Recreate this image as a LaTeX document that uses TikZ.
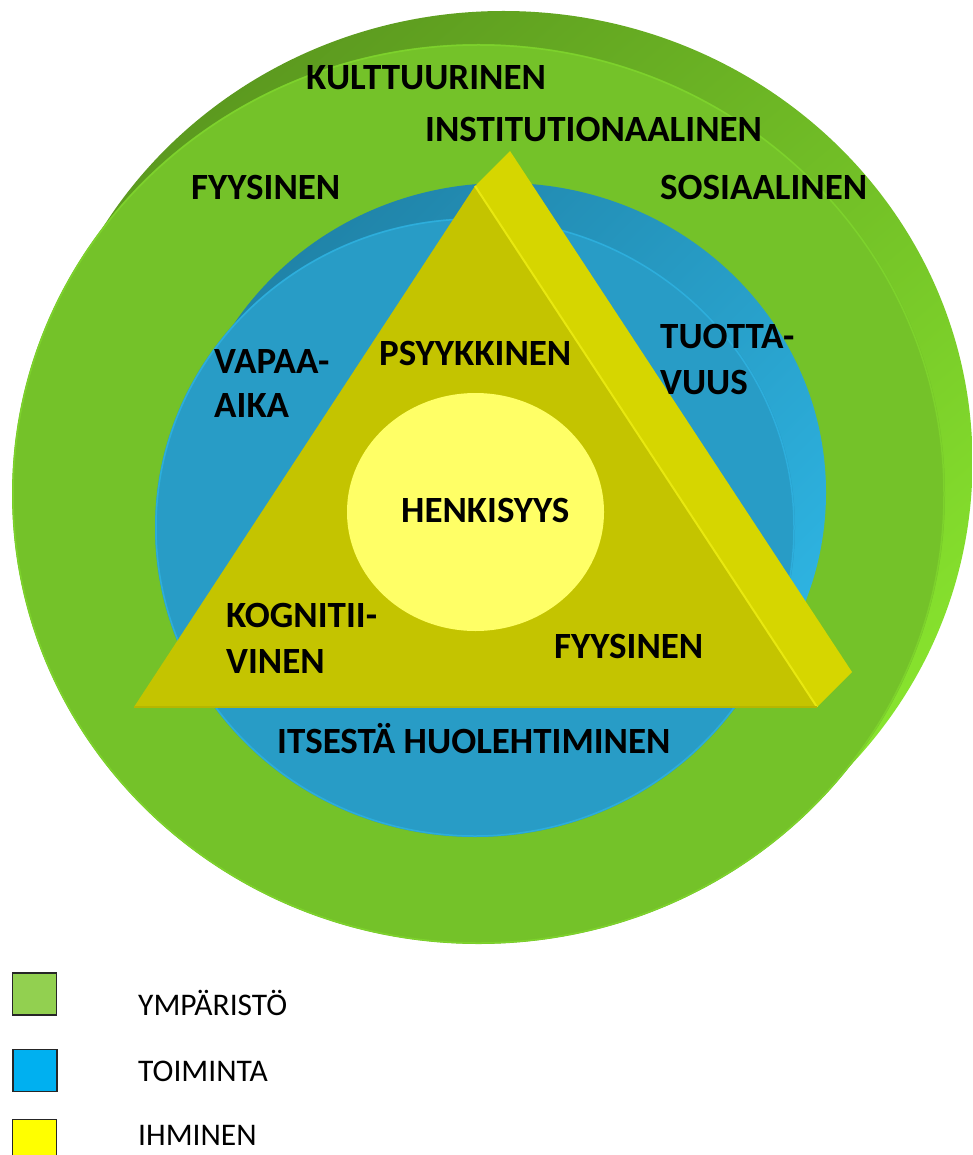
\documentclass[tikz,border=0pt]{standalone}
\usepackage{fontspec}
\setmainfont{Carlito}
\definecolor{gfront}{HTML}{74C229}
\definecolor{gdark}{HTML}{5C9A1F}
\definecolor{glight}{HTML}{88E42E}
\definecolor{gedge}{HTML}{7DD22C}
\definecolor{bfront}{HTML}{289CC6}
\definecolor{bdark}{HTML}{2084A9}
\definecolor{blight}{HTML}{2EB5E3}
\definecolor{bedge}{HTML}{2DAEDC}
\definecolor{tfront}{HTML}{C4C400}
\definecolor{tside}{HTML}{D6D600}
\definecolor{thl}{HTML}{E8E810}
\definecolor{tdark}{HTML}{B6B600}
\definecolor{yel}{HTML}{FFFF66}
\definecolor{lg}{HTML}{92D050}
\definecolor{lb}{HTML}{00B0F0}
\definecolor{ly}{HTML}{FFFF00}
\definecolor{legline}{HTML}{262626}
\begin{document}
\begin{tikzpicture}[x=1pt,y=-1pt,
  lbl/.style={font=\fontsize{37}{44}\selectfont\bfseries, inner sep=0pt, anchor=base west, text=black},
  legtxt/.style={font=\fontsize{31.5}{38}\selectfont, inner sep=0pt, anchor=base west, text=black},
  legbox/.style={draw=legline, line width=1.3pt, minimum width=44pt, minimum height=42pt, inner sep=0pt}]
\useasboundingbox (0,0) rectangle (972,1155);
\clip (0,0) rectangle (972,1155);

% ---------- green disc (environment) ----------
\shade[top color=gdark, middle color=gfront, bottom color=glight, shading angle=40]
  (503.5,462) ellipse [x radius=469pt, y radius=451pt];
\fill[gfront] (478.5,494) ellipse [x radius=466.5pt, y radius=450pt];
\draw[gedge, line width=1.5pt] (478.5,494) ellipse [x radius=465.5pt, y radius=449pt];

% ---------- blue disc (occupation) ----------
\shade[top color=bdark, middle color=bfront, bottom color=blight, shading angle=45]
  (504,492.5) ellipse [x radius=322pt, y radius=309.5pt];
\fill[bfront] (475,527.5) ellipse [x radius=320pt, y radius=309.5pt];
\draw[bedge, line width=1.5pt] (475,527.5) ellipse [x radius=319pt, y radius=308.5pt];

% ---------- triangle prism (person) ----------
\coordinate (A) at (475,186);
\coordinate (B) at (134,707);
\coordinate (C) at (817,707);
\coordinate (A2) at (510,151);
\coordinate (C2) at (852,672);
\fill[tside] (A) -- (A2) -- (C2) -- (C) -- cycle;
\fill[tfront] (A) -- (B) -- (C) -- cycle;
\draw[thl, line width=2pt] (A) -- (C);
\draw[tdark, line width=2pt] (B) -- (C);

% ---------- inner ellipse ----------
\fill[yel] (475.5,512) ellipse [x radius=128.5pt, y radius=119pt];

% ---------- labels ----------
\node[lbl] (kult) at (306,90) {KULTTUURINEN};
\node[lbl] (inst) at (425,142) {INSTITUTIONAALINEN};
\node[lbl] (fyys1) at (191,200) {FYYSINEN};
\node[lbl] (sos) at (660,200) {SOSIAALINEN};
\node[lbl] (vap1) at (214,373) {VAPAA-};
\node[lbl] (vap2) at (214,417) {AIKA};
\node[lbl] (psy) at (379,365) {PSYYKKINEN};
\node[lbl] (tuo1) at (660,348) {TUOTTA-};
\node[lbl] (tuo2) at (660,394) {VUUS};
\node[lbl] (henk) at (401,522) {HENKISYYS};
\node[lbl] (kog1) at (226,627) {KOGNITII-};
\node[lbl] (kog2) at (226,673) {VINEN};
\node[lbl] (fyys2) at (554,658) {FYYSINEN};
\node[lbl] (its) at (277,753) {ITSESTÄ HUOLEHTIMINEN};

% ---------- legend ----------
\node[legbox, fill=lg] (sq1) at (34.5,994) {};
\node[legbox, fill=lb] (sq2) at (35,1070.5) {};
\node[legbox, fill=ly] (sq3) at (34.5,1140.5) {};
\node[legtxt] (t1) at (138,1015) {YMPÄRISTÖ};
\node[legtxt] (t2) at (138,1081) {TOIMINTA};
\node[legtxt] (t3) at (138,1145.5) {IHMINEN};
\end{tikzpicture}
\end{document}
